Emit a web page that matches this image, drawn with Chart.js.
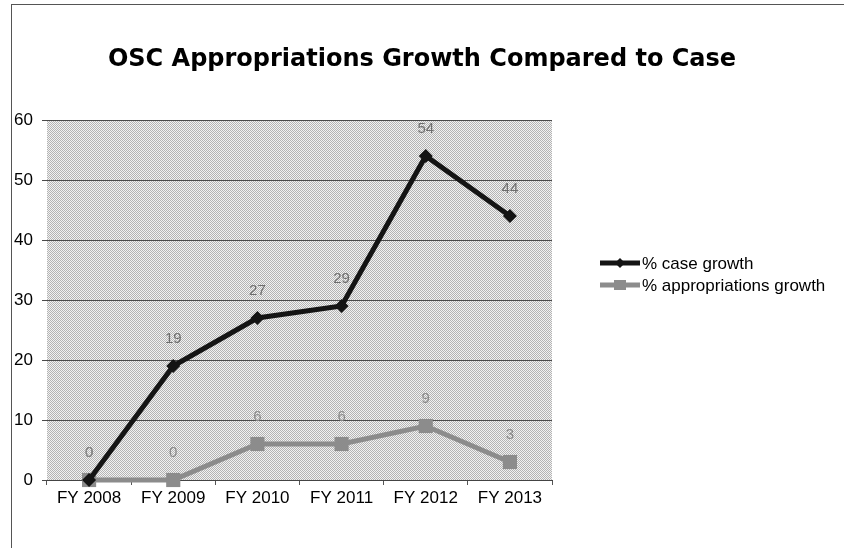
<!DOCTYPE html>
<html>
<head>
<meta charset="utf-8">
<script src="https://cdn.jsdelivr.net/npm/chart.js@4/dist/chart.umd.min.js"></script>
<style>
  html, body { margin: 0; padding: 0; background: #fff; }
  #wrap { position: relative; width: 844px; height: 548px; }
  #frame { position: absolute; left: 11px; top: 4px; width: 900px; height: 600px;
           border-left: 1px solid #555; border-top: 1px solid #555; }
</style>
</head>
<body>
<div id="wrap">
  <div id="frame"></div>
  <canvas id="chart" width="844" height="548"></canvas>
</div>
<script>
// datos
const categories = ["FY 2008", "FY 2009", "FY 2010", "FY 2011", "FY 2012", "FY 2013"];
const caseGrowth = [0, 19, 27, 29, 54, 44];
const approGrowth = [0, 0, 6, 6, 9, 3];
const seriesNames = ["% case growth", "% appropriations growth"];
const yTicks = [0, 10, 20, 30, 40, 50, 60];

const chartTitle = "OSC Appropriations Growth Compared to Case";

// fondo punteado del area de trazado
function makePattern() {
    const c = document.createElement("canvas");
    c.width = 2; c.height = 2;
    const g = c.getContext("2d");
    g.fillStyle = "#f2f2f2";
    g.fillRect(0, 0, 2, 2);
    g.fillStyle = "#b4b4b4";
    g.fillRect(0, 0, 1, 1);
    g.fillRect(1, 1, 1, 1);
    return g.createPattern(c, "repeat");
}

const plotBg = {
    id: "plotBg",
    beforeDraw(chart) {
        const { ctx, chartArea: a } = chart;
        ctx.save();
        ctx.fillStyle = makePattern();
        ctx.fillRect(a.left, a.top, a.right - a.left, a.bottom - a.top);
        ctx.restore();
    }
};

// titulo, etiquetas de datos y leyenda dibujados a mano
const extras = {
    id: "extras",
    afterDatasetsDraw(chart) {
        const ctx = chart.ctx;
        ctx.save();
        ctx.fillStyle = "#000";
        ctx.font = "bold 24px 'DejaVu Sans'";
        ctx.textAlign = "center";
        ctx.textBaseline = "middle";
        ctx.fillText(chartTitle, 422, 60);

        // etiquetas de valor
        ctx.font = "15px 'Liberation Sans'";
        chart.data.datasets.forEach((ds, i) => {
            const meta = chart.getDatasetMeta(i);
            ctx.fillStyle = i === 0 ? "#6e6e6e" : "#8a8a8a";
            meta.data.forEach((pt, j) => {
                ctx.fillText(String(ds.data[j]), pt.x, pt.y - 27);
            });
        });

        // leyenda
        const ys = [263, 285];
        chart.data.datasets.forEach((ds, i) => {
            const y = ys[i];
            ctx.strokeStyle = ds.borderColor;
            ctx.lineWidth = 5;
            ctx.beginPath();
            ctx.moveTo(600, y);
            ctx.lineTo(640, y);
            ctx.stroke();
            ctx.fillStyle = ds.borderColor;
            if (i === 0) {
                ctx.beginPath();
                ctx.moveTo(620, y - 5);
                ctx.lineTo(625, y);
                ctx.lineTo(620, y + 5);
                ctx.lineTo(615, y);
                ctx.closePath();
                ctx.fill();
            } else {
                ctx.fillRect(614, y - 5, 12, 10);
            }
            ctx.fillStyle = "#000";
            ctx.textAlign = "left";
            ctx.font = "17px 'Liberation Sans'";
            ctx.fillText(ds.label, 642, y + 1);
        });
        ctx.restore();
    }
};

new Chart(document.getElementById("chart"), {
    type: "line",
    data: {
        labels: categories,
        datasets: [
            {
                label: seriesNames[0],
                data: caseGrowth,
                borderColor: "#141414",
                backgroundColor: "#141414",
                borderWidth: 5,
                pointStyle: "rectRot",
                pointRadius: 7,
                pointBorderWidth: 0,
                tension: 0
            },
            {
                label: seriesNames[1],
                data: approGrowth,
                borderColor: "#8c8c8c",
                backgroundColor: "#8c8c8c",
                borderWidth: 5,
                pointStyle: "rect",
                pointRadius: 10,
                pointBorderWidth: 0,
                tension: 0
            }
        ]
    },
    options: {
        responsive: false,
        animation: false,
        clip: false,
        layout: { padding: { left: 0, right: 292, top: 120, bottom: 0 } },
        plugins: {
            legend: { display: false },
            title: { display: false },
            tooltip: { enabled: false }
        },
        scales: {
            x: {
                offset: true,
                grid: { drawOnChartArea: false, offset: true, tickLength: 5, color: "#555" },
                border: { color: "#444", width: 1 },
                ticks: { color: "#000", font: { family: "'Liberation Sans'", size: 17 }, padding: 3 },
                afterFit(scale) { scale.height = 68; }
            },
            y: {
                min: 0,
                max: 60,
                afterBuildTicks(scale) { scale.ticks = yTicks.map((v) => ({ value: v })); },
                grid: { color: "#4a4a4a", tickLength: 5, lineWidth: 1 },
                border: { display: false },
                ticks: { color: "#000", font: { family: "'Liberation Sans'", size: 17 }, padding: 9 },
                afterFit(scale) { scale.width = 47; }
            }
        }
    },
    plugins: [plotBg, extras]
});
</script>
</body>
</html>
